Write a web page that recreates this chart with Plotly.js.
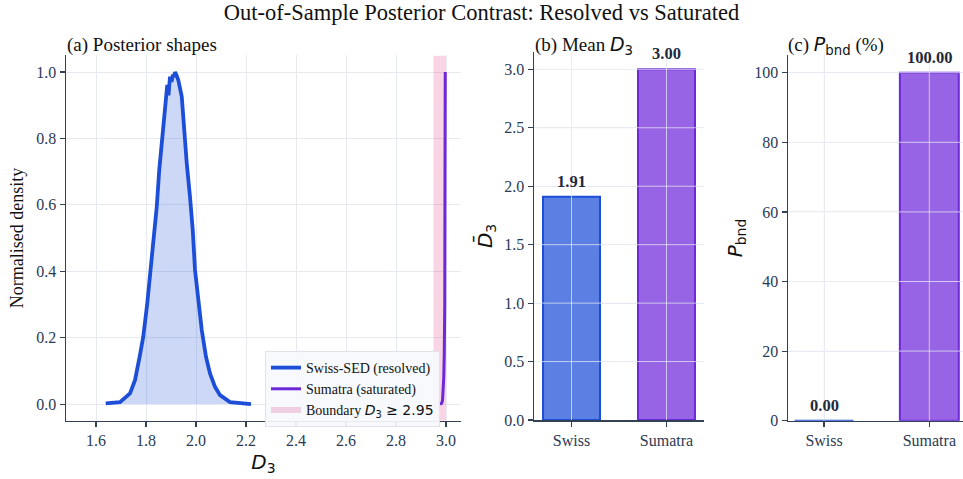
<!DOCTYPE html>
<html><head><meta charset="utf-8">
<script src="https://cdn.plot.ly/plotly-3.0.1.min.js"></script>
<style>html,body{margin:0;padding:0;background:#fff;}#chart{width:963px;height:479px;}</style>
</head><body><div id="chart"></div>
<script>
// ---- data ----
const swissX = [1.639,1.696,1.736,1.756,1.776,1.789,1.805,1.819,1.832,1.843,1.853,1.863,1.876,1.885,1.890,1.893,1.896,1.902,1.908,1.912,1.916,1.922,1.929,1.943,1.952,1.963,1.976,1.987,1.996,2.009,2.023,2.040,2.056,2.076,2.096,2.136,2.220];
const swissY = [0.002,0.006,0.032,0.072,0.148,0.203,0.303,0.404,0.504,0.594,0.705,0.795,0.896,0.961,0.930,0.975,0.986,0.970,0.992,0.985,1.000,0.990,0.976,0.926,0.825,0.725,0.624,0.524,0.404,0.303,0.223,0.142,0.092,0.052,0.027,0.006,0.000];
const sumatraX = [2.976,2.982,2.986,2.989,2.991,2.993,2.995,2.996,2.997];
const sumatraY = [0.000,0.002,0.010,0.040,0.080,0.150,0.300,0.700,1.000];
const boundary = [2.95, 3.0];
const categories = ['Swiss','Sumatra'];
const meanD3 = [1.91, 3.00];
const pBnd = [0.00, 100.00];
const xTicksA = [1.6,1.8,2.0,2.2,2.4,2.6,2.8,3.0];
const yTicksA = [0.0,0.2,0.4,0.6,0.8,1.0];
const yTicksB = [0.0,0.5,1.0,1.5,2.0,2.5,3.0];
const yTicksC = [0,20,40,60,80,100];

// ---- styles ----
const SERIF = 'Liberation Serif, Times New Roman, serif';
const SANS = 'DejaVu Sans, sans-serif';
const INK = '#334155';
const TICKINK = '#2b3a55';
const GRID = '#e6e9ef';
const blue = '#1d4ed8', purple = '#6d28d9';
const barFill = ['rgba(29,78,216,0.72)','rgba(109,40,217,0.72)'];
const barEdge = [blue, purple];

const W = 963, H = 479;
const fx = p => p / W, fy = p => 1 - p / H;

const traces = [
  {x:[boundary[0],boundary[1],boundary[1],boundary[0],boundary[0]], y:[-0.05,-0.05,1.05,1.05,-0.05],
   type:'scatter', mode:'none', fill:'toself', fillcolor:'rgba(219,39,119,0.2)',
   name:'Boundary <span style="font-family:DejaVu Sans"><i>D</i><sub>3</sub> \u2265 2.95</span>',
   xaxis:'x', yaxis:'y', legendrank:3, hoverinfo:'skip'},
  {x:swissX, y:swissY, type:'scatter', mode:'none', fill:'tozeroy', fillcolor:'rgba(29,78,216,0.22)',
   showlegend:false, xaxis:'x', yaxis:'y'},
  {x:swissX, y:swissY, type:'scatter', mode:'lines',
   line:{color:blue, width:3.8}, name:'Swiss-SED (resolved)', xaxis:'x', yaxis:'y', legendrank:1},
  {x:sumatraX, y:sumatraY, type:'scatter', mode:'lines',
   line:{color:purple, width:3}, name:'Sumatra (saturated)', xaxis:'x', yaxis:'y', legendrank:2},
  {x:[0,1], y:meanD3, type:'bar', width:0.6, marker:{color:barFill, line:{color:barEdge, width:2}},
   xaxis:'x2', yaxis:'y2', showlegend:false},
  {x:[0,1], y:pBnd, type:'bar', width:0.56, marker:{color:barFill, line:{color:barEdge, width:2}},
   xaxis:'x3', yaxis:'y3', showlegend:false}
];

const axBase = {showline:true, linecolor:INK, linewidth:1.5, ticks:'outside', ticklen:5, tickwidth:1.2,
  tickcolor:INK, tickfont:{family:SERIF, size:16, color:TICKINK}, gridcolor:GRID, gridwidth:1, zeroline:false, mirror:false};

const shapes = [];
const gl = {color:'rgba(235,238,245,0.75)', width:1};
yTicksB.slice(1).forEach(v => shapes.push({type:'line', xref:'x2 domain', yref:'y2', x0:0, x1:1, y0:v, y1:v, line:gl, layer:'above'}));
[0,1].forEach(v => shapes.push({type:'line', xref:'x2', yref:'y2 domain', x0:v, x1:v, y0:0, y1:1, line:gl, layer:'above'}));
yTicksC.slice(1).forEach(v => shapes.push({type:'line', xref:'x3 domain', yref:'y3', x0:0, x1:1, y0:v, y1:v, line:gl, layer:'above'}));
[0,1].forEach(v => shapes.push({type:'line', xref:'x3', yref:'y3 domain', x0:v, x1:v, y0:0, y1:1, line:gl, layer:'above'}));

const subFont = {family:SERIF, size:19, color:'#111'};
const annotations = [
  {text:'(a) Posterior shapes', xref:'paper', yref:'paper', x:fx(65), y:fy(45), xanchor:'left', yanchor:'middle', showarrow:false, font:subFont},
  {text:'(b) Mean <span style="font-family:DejaVu Sans"><i>D</i><sub>3</sub></span>', xref:'paper', yref:'paper', x:fx(533), y:fy(45), xanchor:'left', yanchor:'middle', showarrow:false, font:subFont},
  {text:'(c) <span style="font-family:DejaVu Sans"><i>P</i><sub>bnd</sub></span> (%)', xref:'paper', yref:'paper', x:fx(786), y:fy(45), xanchor:'left', yanchor:'middle', showarrow:false, font:subFont}
];
const valFont = {family:SERIF, size:16.5, color:'#1e293b'};
meanD3.forEach((v,i) => annotations.push({text:'<b>'+v.toFixed(2)+'</b>', xref:'x2', yref:'y2', x:i, y:v,
  yanchor:'bottom', yshift:4, showarrow:false, font:valFont}));
pBnd.forEach((v,i) => annotations.push({text:'<b>'+v.toFixed(2)+'</b>', xref:'x3', yref:'y3', x:i, y:v,
  yanchor:'bottom', yshift:4, showarrow:false, font:valFont}));

const layout = {
  width:W, height:H, margin:{l:0,r:0,t:0,b:0}, paper_bgcolor:'#fff', plot_bgcolor:'#fff',
  title:{text:'Out-of-Sample Posterior Contrast: Resolved vs Saturated', x:0.5, xanchor:'center', y:fy(12), yanchor:'middle',
    font:{family:SERIF, size:22.5, color:'#111'}},
  showlegend:true,
  legend:{x:fx(265), y:fy(351), xanchor:'left', yanchor:'top', bgcolor:'rgba(246,249,253,0.92)', bordercolor:'#dfe3ea', borderwidth:1,
    font:{family:SERIF, size:14, color:'#111'}, tracegroupgap:0, itemwidth:30, traceorder:'normal'},
  xaxis:Object.assign({}, axBase, {domain:[fx(66), fx(461)], range:[1.48, 3.06], tickvals:xTicksA, ticktext:xTicksA.map(v=>v.toFixed(1)),
    title:{text:'<i>D</i><sub>3</sub>', font:{family:SANS, size:20, color:'#111'}, standoff:6}, anchor:'y'}),
  yaxis:Object.assign({}, axBase, {domain:[fy(420.7), fy(55.4)], range:[-0.05, 1.05], tickvals:yTicksA, ticktext:yTicksA.map(v=>v.toFixed(1)),
    title:{text:'Normalised density', font:{family:SERIF, size:18, color:'#111'}, standoff:8}, anchor:'x'}),
  xaxis2:Object.assign({}, axBase, {domain:[fx(534), fx(704)], range:[-0.395, 1.395], tickvals:[0,1], ticktext:categories, anchor:'y2'}),
  yaxis2:Object.assign({}, axBase, {domain:[fy(420), fy(51.8)], range:[0, 3.15], tickvals:yTicksB, ticktext:yTicksB.map(v=>v.toFixed(1)),
    title:{text:'<i>D\u0304</i><sub>3</sub>', font:{family:SANS, size:20, color:'#111'}, standoff:6}, anchor:'x2'}),
  xaxis3:Object.assign({}, axBase, {domain:[fx(788), fx(963)], range:[-0.343, 1.32], tickvals:[0,1], ticktext:categories, anchor:'y3'}),
  yaxis3:Object.assign({}, axBase, {domain:[fy(420.7), fy(55.3)], range:[0, 105], tickvals:yTicksC, ticktext:yTicksC.map(String),
    title:{text:'<i>P</i><sub>bnd</sub>', font:{family:SANS, size:20, color:'#111'}, standoff:6}, anchor:'x3'}),
  shapes:shapes, annotations:annotations, bargap:0
};

Plotly.newPlot('chart', traces, layout, {staticPlot:true, displayModeBar:false});
</script></body></html>
